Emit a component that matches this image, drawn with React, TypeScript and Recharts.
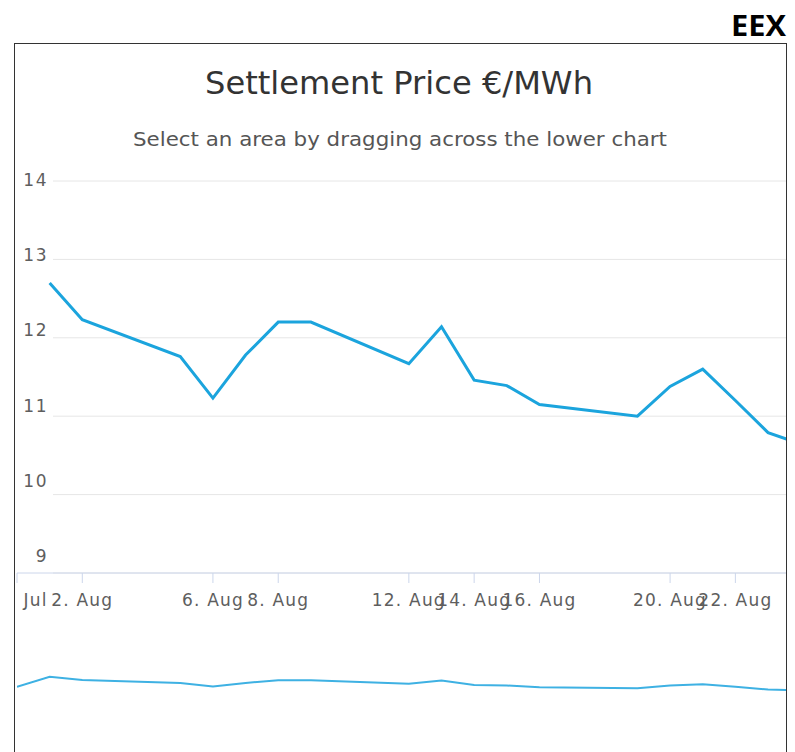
import React from "react";
import { LineChart, Line, XAxis, YAxis, CartesianGrid } from "recharts";

// trading days, counted from 31 Jul
const dayOffsets = [0, 1, 2, 5, 6, 7, 8, 9, 12, 13, 14, 15, 16, 19, 20, 21, 22, 23, 26];
const prices = [11.2, 12.7, 12.23, 11.76, 11.23, 11.78, 12.2, 12.2, 11.67, 12.14, 11.46, 11.39, 11.15, 11.0, 11.38, 11.6, 11.2, 10.79, 10.36];

const tickDays = [0, 2, 6, 8, 12, 14, 16, 20, 22];
const tickLabels = ["31. Jul", "2. Aug", "6. Aug", "8. Aug", "12. Aug", "14. Aug", "16. Aug", "20. Aug", "22. Aug"];
const yTicks = [9, 10, 11, 12, 13, 14];

const title = "Settlement Price €/MWh";
const subtitle = "Select an area by dragging across the lower chart";

const xDomain = [0, 23.55];
const lineColor = "#1ba4dd";
const font = "'DejaVu Sans', sans-serif";

const data = dayOffsets.map((d, i) => ({ day: d, price: prices[i] }));

const XTick = (props: any) => {
  const { x, y, payload } = props;
  const i = tickDays.indexOf(payload.value);
  return (
    <text x={x} y={y + 21} textAnchor="middle" fill="#5e5e5e" fontSize={17} fontFamily={font} letterSpacing={1.2}>
      {i >= 0 ? tickLabels[i] : payload.value}
    </text>
  );
};

const YTick = (props: any) => {
  const { y, payload } = props;
  // labels drift upward a little towards the bottom of the axis
  const shift = 5 - (14 - payload.value) * 3.2;
  return (
    <text x={48} y={y + shift} textAnchor="end" fill="#5e5e5e" fontSize={17} fontFamily={font} letterSpacing={1.5}>
      {payload.value}
    </text>
  );
};

const gridLine = (p: any) => (
  <line key={p.key ?? p.index} x1={p.x1 + 36} y1={p.y1} x2={p.x2} y2={p.y2} stroke="#e6e6e6" strokeWidth={1} />
);

export default function App() {
  return (
    <div style={{ position: "absolute", left: 0, top: 0, width: 795, height: 752, overflow: "hidden", background: "#fff" }}>
      <svg width={795} height={752} style={{ position: "absolute", left: 0, top: 0 }}>
        <rect x={14.5} y={43.5} width={772} height={740} fill="none" stroke="#333" strokeWidth={1} />
        <text x={786} y={36} textAnchor="end" fontFamily="'Open Sans', sans-serif" fontWeight={700} fontSize={28} fill="#000" textLength={55} lengthAdjust="spacingAndGlyphs">
          EEX
        </text>
        <text x={399} y={94} textAnchor="middle" fontFamily={font} fontSize={32} fill="#333333" textLength={388} lengthAdjust="spacingAndGlyphs">
          {title}
        </text>
        <text x={400} y={146} textAnchor="middle" fontFamily={font} fontSize={20} fill="#555555" textLength={534} lengthAdjust="spacingAndGlyphs">
          {subtitle}
        </text>
      </svg>

      <div style={{ position: "absolute", left: 15, top: 0, width: 771, height: 640, overflow: "hidden" }}>
        <div style={{ position: "relative", left: -15 }}>
          <LineChart width={795} height={620} data={data.slice(1)} margin={{ top: 181, right: 9, left: 17, bottom: 7 }}>
            <CartesianGrid vertical={false} horizontal={gridLine} />
            <XAxis
              dataKey="day"
              type="number"
              domain={xDomain}
              allowDataOverflow
              ticks={tickDays}
              interval={0}
              height={40}
              tickSize={10}
              axisLine={{ stroke: "#ccd6eb" }}
              tickLine={{ stroke: "#ccd6eb" }}
              tick={<XTick />}
            />
            <YAxis domain={[9, 14]} ticks={yTicks} interval={0} mirror axisLine={false} tickLine={false} tick={<YTick />} />
            <Line type="linear" dataKey="price" stroke={lineColor} strokeWidth={3} dot={false} isAnimationActive={false} />
          </LineChart>
        </div>
      </div>

      <div style={{ position: "absolute", left: 0, top: 655 }}>
        <LineChart width={795} height={53} data={data} margin={{ top: 0, right: 9, left: 17, bottom: 0 }}>
          <XAxis dataKey="day" type="number" domain={xDomain} allowDataOverflow hide />
          <YAxis domain={[8, 16]} hide />
          <Line type="linear" dataKey="price" stroke="#3eb1e3" strokeWidth={2} dot={false} isAnimationActive={false} />
        </LineChart>
      </div>
    </div>
  );
}
